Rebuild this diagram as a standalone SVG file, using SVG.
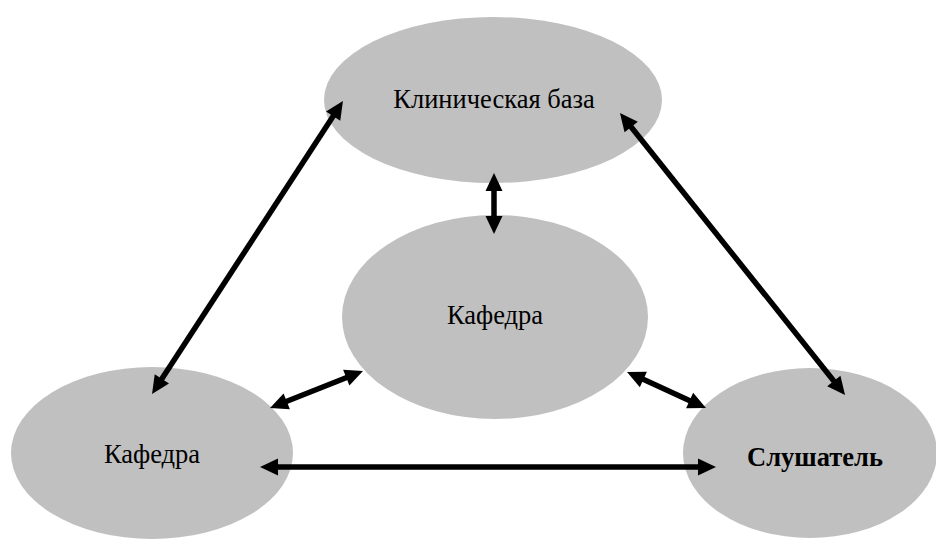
<svg xmlns="http://www.w3.org/2000/svg" width="936" height="539" viewBox="0 0 936 539">
<style>
.node{fill:#c0c0c0;}
.lbl{font-family:"Liberation Serif","Times New Roman",serif;font-size:26.5px;fill:#000;text-anchor:middle;}
.b{font-weight:bold;}
.con line{stroke:#000;stroke-width:5.5;fill:none;marker-start:url(#ah);marker-end:url(#ah);}
</style>
<defs>
<marker id="ah" markerUnits="userSpaceOnUse" markerWidth="18" markerHeight="17" refX="8" refY="8.5" orient="auto-start-reverse" overflow="visible">
<path d="M0,0 L18,8.5 L0,17 z" fill="#000"/>
</marker>
</defs>
<rect width="936" height="539" fill="#fff"/>
<g id="clinic"><ellipse class="node" cx="493" cy="100" rx="169" ry="83"/><text class="lbl" x="494" y="108">Клиническая база</text></g>
<g id="dept-center"><ellipse class="node" cx="495" cy="317" rx="153" ry="102"/><text class="lbl" x="495" y="324">Кафедра</text></g>
<g id="dept-left"><ellipse class="node" cx="152" cy="453" rx="141" ry="86"/><text class="lbl" x="152" y="463">Кафедра</text></g>
<g id="listener"><ellipse class="node" cx="810" cy="453" rx="127" ry="85"/><text class="lbl b" x="815" y="466">Слушатель</text></g>
<g id="connectors" class="con">
<line x1="337.5" y1="109.4" x2="157.5" y2="385.6"/>
<line x1="626.2" y1="120.8" x2="838.8" y2="387.2"/>
<line x1="279.3" y1="404.3" x2="353.7" y2="374.7"/>
<line x1="636.1" y1="376.1" x2="696.9" y2="403.9"/>
<line x1="270" y1="467" x2="706" y2="467"/>
<line x1="494" y1="183" x2="494" y2="224"/>
</g>
</svg>
